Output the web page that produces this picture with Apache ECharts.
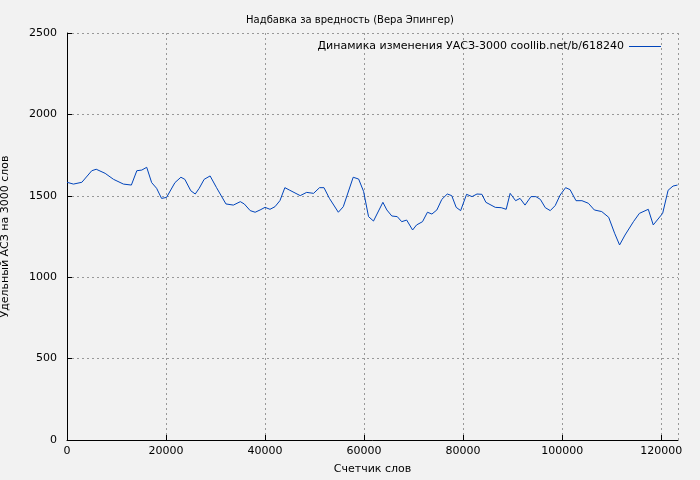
<!DOCTYPE html>
<html>
<head>
    <meta charset="utf-8" />
    <title>ECharts</title>
    <style>html,body{margin:0;background:#f2f2f2;}</style>
</head>
<body>
<script src="https://cdn.jsdelivr.net/npm/echarts@6.0.0/dist/echarts.min.js"></script>
<div id="main" style="width: 700px;height:480px;"></div>
<script type="text/javascript">
    // счетчик слов (тыс.) и значения УАСЗ-3000
    var words = [0, 1.3, 3, 5, 5.9, 7.7, 9.4, 11.4, 13, 14.1, 15.1, 16.1, 17.1, 18.1, 19.1, 20.1, 21.8, 23, 23.8, 25,
        25.9, 26.7, 27.7, 28.9, 30.2, 32.1, 33.6, 35, 35.8, 37, 38, 39, 40, 41, 42, 43, 44, 45, 47.1, 48.4,
        49.8, 51, 51.9, 53, 54.8, 55.8, 57.8, 58.9, 59.9, 60.9, 61.9, 63.8, 64.6, 65.6, 66.7, 67.6, 68.6, 69.8, 70.6, 71.8,
        72.8, 73.7, 74.7, 75.7, 76.8, 77.7, 78.6, 79.5, 80.7, 81.8, 82.8, 83.8, 84.6, 86.5, 87.7, 88.7, 89.5, 90.6, 91.5, 92.5,
        93.7, 94.7, 95.6, 96.6, 97.6, 98.6, 99.6, 100.7, 101.6, 102.8, 104, 105.3, 106.5, 108, 109.4, 110.6, 111.6, 112.7, 114.4, 115.6,
        117.4, 118.4, 120.3, 121.4, 122.4, 123.3];
    var values = [1583, 1572, 1583, 1654, 1663, 1638, 1601, 1572, 1566, 1654, 1658, 1675, 1581, 1546, 1484, 1490, 1581, 1614, 1601, 1531,
        1511, 1546, 1601, 1622, 1550, 1450, 1443, 1464, 1450, 1409, 1399, 1413, 1429, 1417, 1433, 1470, 1550, 1534, 1501, 1521,
        1515, 1550, 1550, 1484, 1399, 1433, 1614, 1603, 1527, 1372, 1345, 1460, 1413, 1376, 1372, 1341, 1351, 1290, 1321, 1341,
        1399, 1388, 1413, 1478, 1511, 1501, 1429, 1409, 1509, 1495, 1511, 1509, 1460, 1429, 1427, 1417, 1515, 1470, 1484, 1443,
        1495, 1495, 1478, 1427, 1409, 1440, 1505, 1550, 1538, 1470, 1470, 1454, 1413, 1403, 1368, 1270, 1198, 1259, 1341, 1392,
        1417, 1321, 1392, 1534, 1560, 1566];
    var seriesName = 'Динамика изменения УАСЗ-3000 coollib.net/b/618240';

    var data = words.map(function (w, i) { return [w * 1000, values[i]]; });
    var myChart = echarts.init(document.getElementById('main'));
    var gridLine = { show: true, lineStyle: { color: '#999', type: [2, 3], width: 1 } };
    var plain = function (v) { return String(v); };
    var option = {
        backgroundColor: '#f2f2f2',
        textStyle: { fontFamily: 'DejaVu Sans' },
        title: {
            text: 'Надбавка за вредность (Вера Эпингер)',
            left: 'center', top: 10,
            textStyle: { fontSize: 10, fontWeight: 'normal', color: '#000' }
        },
        legend: {
            right: 34, top: 36, align: 'right',
            icon: 'rect', itemWidth: 32, itemHeight: 1,
            textStyle: { fontSize: 11, color: '#000' },
            data: [seriesName]
        },
        grid: { left: 67, right: 22, top: 33, bottom: 40, containLabel: false, outerBoundsMode: 'none' },
        xAxis: {
            type: 'value', min: 0, max: 123400, interval: 20000,
            name: 'Счетчик слов', nameLocation: 'middle', nameGap: 24,
            nameTextStyle: { fontSize: 11, color: '#000' },
            axisLine: { lineStyle: { color: '#000' } },
            axisTick: { inside: true, lineStyle: { color: '#000' } },
            axisLabel: { fontSize: 11, color: '#000', showMaxLabel: false, margin: 6, formatter: plain },
            splitLine: gridLine
        },
        yAxis: {
            type: 'value', min: 0, max: 2500, interval: 500,
            name: 'Удельный АСЗ на 3000 слов', nameLocation: 'middle', nameGap: 56,
            nameTextStyle: { fontSize: 11, color: '#000' },
            axisLine: { show: true, lineStyle: { color: '#000' } },
            axisTick: { show: true, inside: true, lineStyle: { color: '#000' } },
            axisLabel: { fontSize: 11, color: '#000', margin: 10, formatter: plain },
            splitLine: gridLine
        },
        series: [{
            name: seriesName,
            type: 'line',
            data: data,
            symbol: 'none',
            color: '#0044bb',
            lineStyle: { width: 1 }
        }]
    };
    myChart.setOption(option);
</script>
</body>
</html>
